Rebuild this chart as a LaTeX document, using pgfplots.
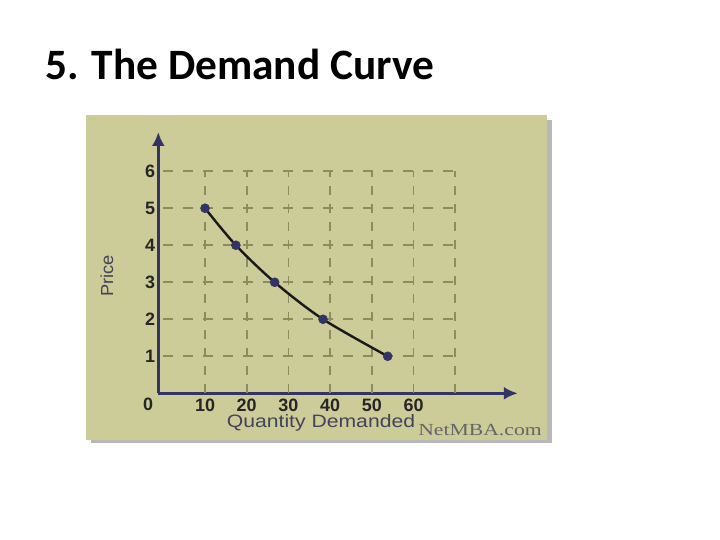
\documentclass[border=0pt]{standalone}
\usepackage{fontspec}
\setmainfont{Liberation Sans}
\newfontfamily\titlefont{Carlito}
\newfontfamily\seriffont{Liberation Serif}
\usepackage{pgfplots}
\pgfplotsset{compat=1.18}
\usetikzlibrary{arrows.meta}

\definecolor{khaki}{HTML}{CCCC99}
\definecolor{navy}{HTML}{333366}
\definecolor{gridol}{HTML}{8C8C5E}
\definecolor{labgray}{HTML}{444458}

\begin{document}
\begin{tikzpicture}[x=1bp,y=1bp]
\path[use as bounding box, fill=white] (0,0) rectangle (720,540);
% title
\node[anchor=base west, inner sep=0] at (45,460)
  {\titlefont\bfseries\fontsize{43.5}{43.5}\selectfont 5. The Demand Curve};
% image panel with shadow
\fill[black!28] (91,97) rectangle (552,420);
\fill[khaki] (86,100) rectangle (547,425);

\begin{axis}[
    at={(158.3bp,146.7bp)}, anchor=south west,
    scale only axis, width=359.5bp, height=261.3bp,
    xmin=-1.2, xmax=85, ymin=0, ymax=7.06,
    axis lines=left,
    axis line style={navy, line width=3bp, -{Latex[length=14bp,width=13bp]}},
    xtick={10,20,30,40,50,60}, ytick={1,2,3,4,5,6},
    major tick length=0pt,
    /pgf/number format/assume math mode=true,
    tick label style={font=\bfseries\fontsize{18}{18}\selectfont, text=black!85},
    xticklabel style={anchor=base, yshift=-18bp},
    yticklabel style={anchor=east, inner sep=0pt, xshift=-3bp},
    clip=false,
]
\pgfplotsinvokeforeach{10,20,30,40,50,60,70}{
  \draw[gridol, line width=1.7bp, dash pattern=on 9bp off 9bp] (axis cs:#1,0) -- (axis cs:#1,6);
}
\pgfplotsinvokeforeach{1,2,3,4,5,6}{
  \draw[gridol, line width=1.7bp, dash pattern=on 10bp off 10bp] (axis cs:0,#1) -- (axis cs:70,#1);
}
\addplot[black!90, line width=2.4bp, smooth, mark=*, mark size=4.5bp,
  mark options={navy, fill=navy, line width=0.5bp}]
  coordinates {(10,5) (17.4,4) (26.7,3) (38.3,2) (53.8,1)};
\end{axis}

\node[font=\bfseries\fontsize{18}{18}\selectfont, text=black!85] at (148,136) {0};
\node[rotate=90, xscale=1.05, font=\fontsize{17.5}{17.5}\selectfont, text=labgray] at (107,264) {Price};
\node[anchor=base, xscale=1.18, font=\fontsize{18}{18}\selectfont, text=labgray] at (321,112) {Quantity Demanded};
\node[anchor=base, xscale=1.28, font=\seriffont\fontsize{17}{17}\selectfont, text=black!60] at (480,104) {NetMBA.com};
\end{tikzpicture}
\end{document}
